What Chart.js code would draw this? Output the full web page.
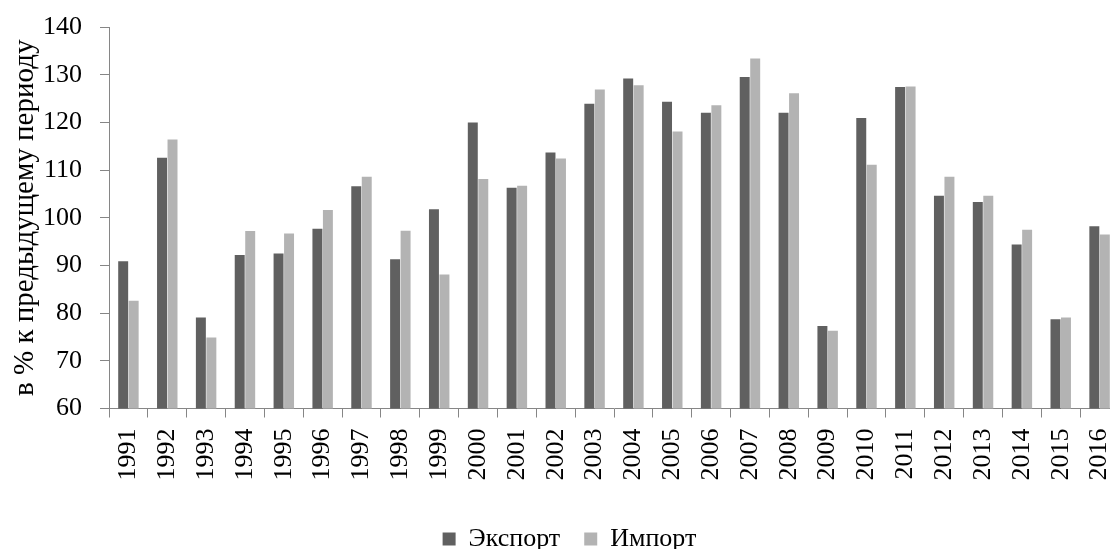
<!DOCTYPE html>
<html>
<head>
<meta charset="utf-8">
<script src="https://cdn.jsdelivr.net/npm/chart.js@4"></script>
<style>
  html, body { margin: 0; padding: 0; background: #fff; overflow: hidden; }
  #wrap { width: 1119px; height: 549px; }
</style>
</head>
<body>
<div id="wrap"><canvas id="c" width="1119" height="549"></canvas></div>
<script>
const years = ['1991','1992','1993','1994','1995','1996','1997','1998','1999','2000','2001','2002','2003','2004','2005','2006','2007','2008','2009','2010','2011','2012','2013','2014','2015','2016'];
const exportValues = [90.9,112.6,79.1,92.2,92.5,97.7,106.6,91.3,101.8,120.0,106.3,113.7,123.9,129.2,124.3,122.0,129.5,122.0,77.3,120.9,127.4,104.6,103.3,94.4,78.7,98.2];
const importValues = [82.6,116.4,74.9,97.2,96.7,101.6,108.6,97.3,88.1,108.1,106.7,112.4,126.9,127.8,118.1,123.6,133.4,126.1,76.3,111.1,127.5,108.6,104.6,97.5,79.1,96.5];
const yMin = 60, yMax = 140, yStep = 10;
const seriesNames = ['Экспорт', 'Импорт'];
const yTitle = 'в % к предыдущему периоду';

const FONT = 'Liberation Serif, Times New Roman, serif';
const FS = 26;
const TITLE_FS = 29;
const AXIS = '#868686';
const PLOT_TOP = 27;
const PLOT_BOTTOM = 408.5;
const LEGEND_CENTER_Y = 539;

const legendShift = {
  id: 'legendShift',
  afterLayout(chart) {
    const lg = chart.legend;
    if (!lg) return;
    const dx = 10;
    const curCenter = lg.top + lg.options.labels.padding + FS / 2;
    const dy = LEGEND_CENTER_Y - curCenter;
    lg.left += dx; lg.right += dx;
    lg.top += dy; lg.bottom += dy;
  }
};

new Chart(document.getElementById('c'), {
  type: 'bar',
  data: {
    labels: years,
    datasets: [
      { label: seriesNames[0], data: exportValues, backgroundColor: '#606060', borderWidth: 0,
        categoryPercentage: 0.54, barPercentage: 0.95 },
      { label: seriesNames[1], data: importValues, backgroundColor: '#b3b3b3', borderWidth: 0,
        categoryPercentage: 0.54, barPercentage: 0.95 }
    ]
  },
  plugins: [legendShift],
  options: {
    responsive: false,
    animation: false,
    layout: { padding: { top: PLOT_TOP, right: 0, bottom: 0, left: 0 } },
    plugins: {
      tooltip: { enabled: false },
      legend: {
        position: 'bottom',
        labels: {
          font: { family: FONT, size: FS },
          color: '#000',
          boxWidth: 13,
          boxHeight: 13,
          padding: 24
        }
      }
    },
    scales: {
      x: {
        grid: { display: true, drawOnChartArea: false, drawTicks: true, tickLength: 9, color: AXIS, offset: true },
        border: { display: true, color: AXIS, width: 1 },
        ticks: { color: '#000', font: { family: FONT, size: FS }, minRotation: 90, maxRotation: 90, autoSkip: false, padding: 11 },
        afterFit: (s) => {
          const lh = s.chart.legend ? s.chart.legend.height : 0;
          s.height = 549 - PLOT_BOTTOM - lh;
          s.paddingRight = 0;
        }
      },
      y: {
        min: yMin, max: yMax,
        grid: { display: true, drawOnChartArea: false, drawTicks: true, tickLength: 9, color: AXIS },
        border: { display: true, color: AXIS, width: 1 },
        ticks: { stepSize: yStep, color: '#000', font: { family: FONT, size: FS }, padding: 18 },
        title: { display: true, text: yTitle, color: '#000', font: { family: FONT, size: TITLE_FS }, padding: { top: 8, bottom: 0 } },
        afterFit: (s) => { s.width = 109; s.paddingTop = 0; s.paddingBottom = 0; }
      }
    }
  }
});
</script>
</body>
</html>
